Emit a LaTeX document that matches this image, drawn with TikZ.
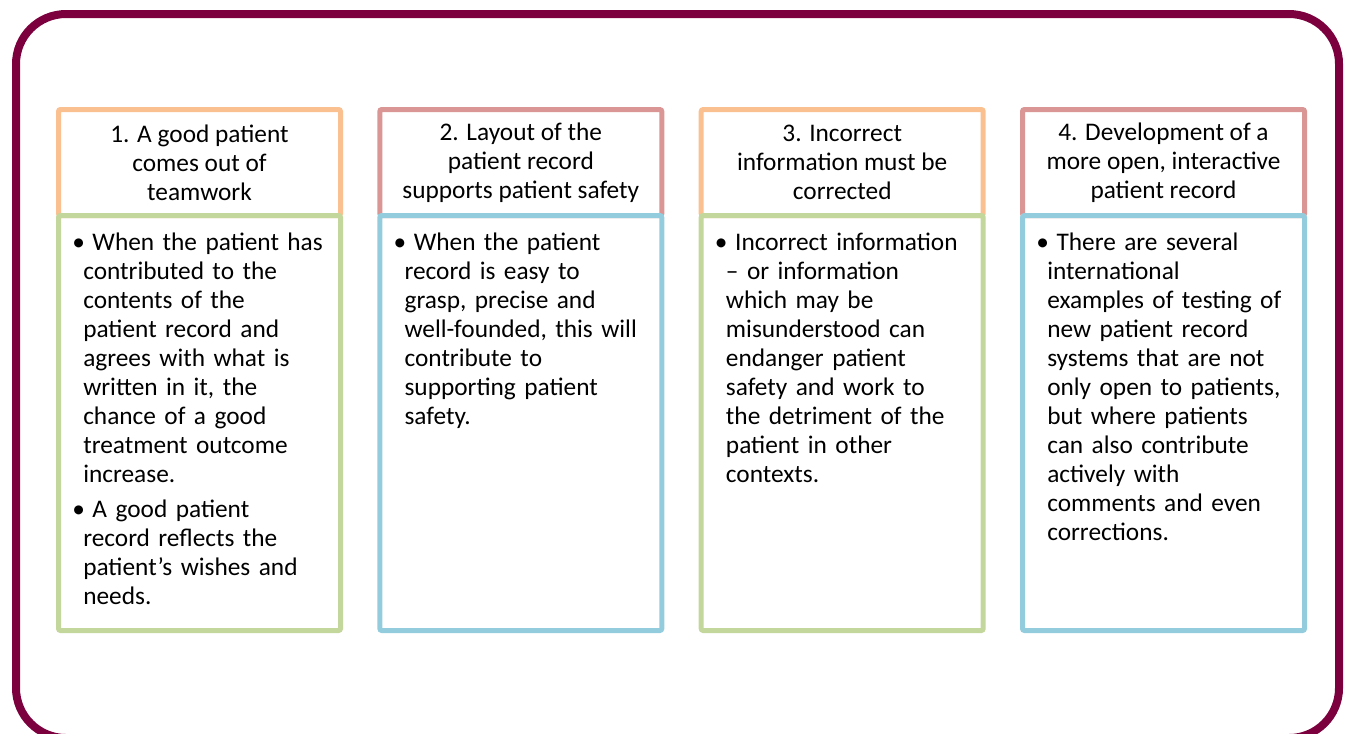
\documentclass[tikz,border=0pt]{standalone}
\usepackage{fontspec}
\setmainfont{Carlito}
\usetikzlibrary{positioning}

\definecolor{framered}{RGB}{124,0,62}
\definecolor{headorange}{RGB}{250,192,144}
\definecolor{headrose}{RGB}{217,150,148}
\definecolor{bodygreen}{RGB}{195,214,155}
\definecolor{bodyblue}{RGB}{147,205,221}

\newcommand{\bulletitem}[1]{\par\hangindent=8.25pt\hangafter=1\noindent\textbullet\hspace{0.3em}#1\par}

\begin{document}
\begin{tikzpicture}[x=0.75pt,y=-0.75pt,
	headbox/.style={draw=#1, fill=white, line width=3.75pt, rounded corners=1.5pt,
		minimum width=211.5pt, minimum height=79.5pt, inner sep=0pt, align=center,
		font=\fontsize{19}{21.75}\selectfont},
	bodybox/.style={draw=#1, line width=3.75pt, rounded corners=1.5pt,
		minimum width=211.5pt, minimum height=311.25pt, inner sep=0pt},
	bodytext/.style={text width=200pt, align=left, inner sep=0pt,
		font=\fontsize{19}{21.75}\selectfont}]
	\useasboundingbox (0,0) rectangle (1351,733);
	\clip (0,0) rectangle (1351,733);
	% Draw the outer frame
	\draw[framered, line width=6pt, rounded corners=37.5pt] (16,14) rectangle (1339,738);
	% Draw the header boxes
	\node[headbox=headorange] (h1) at (199.5,162.5) {1. A good patient\\comes out of\\teamwork};
	\node[headbox=headrose] (h2) at (520.8,162.5) {2. Layout of the\\patient record\\supports patient safety};
	\node[headbox=headorange] (h3) at (842.2,162.5) {3. Incorrect\\information must be\\corrected};
	\node[headbox=headrose] (h4) at (1163.5,162.5) {4. Development of a\\more open, interactive\\patient record};
	% Draw the body boxes
	\node[bodybox=bodygreen] (b1) at (199.5,423) {};
	\node[bodybox=bodyblue] (b2) at (520.8,423) {};
	\node[bodybox=bodygreen] (b3) at (842.2,423) {};
	\node[bodybox=bodyblue] (b4) at (1163.5,423) {};
	% Add the bullet texts
	\node[bodytext, below right=6pt and 12pt of b1.north west] (t1) {%
		\bulletitem{When the patient has\newline contributed to the\newline contents of the\newline patient record and\newline agrees with what is\newline written in it, the\newline chance of a good\newline treatment outcome\newline increase.}%
		\vspace{4.5pt}%
		\bulletitem{A good patient\newline record reflects the\newline patient’s wishes and\newline needs.}};
	\node[bodytext, below right=6pt and 12pt of b2.north west] (t2) {%
		\bulletitem{When the patient\newline record is easy to\newline grasp, precise and\newline well-founded, this will\newline contribute to\newline supporting patient\newline safety.}};
	\node[bodytext, below right=6pt and 12pt of b3.north west] (t3) {%
		\bulletitem{Incorrect information\newline – or information\newline which may be\newline misunderstood can\newline endanger patient\newline safety and work to\newline the detriment of the\newline patient in other\newline contexts.}};
	\node[bodytext, below right=6pt and 12pt of b4.north west] (t4) {%
		\bulletitem{There are several\newline international\newline examples of testing of\newline new patient record\newline systems that are not\newline only open to patients,\newline but where patients\newline can also contribute\newline actively with\newline comments and even\newline corrections.}};
\end{tikzpicture}
\end{document}
